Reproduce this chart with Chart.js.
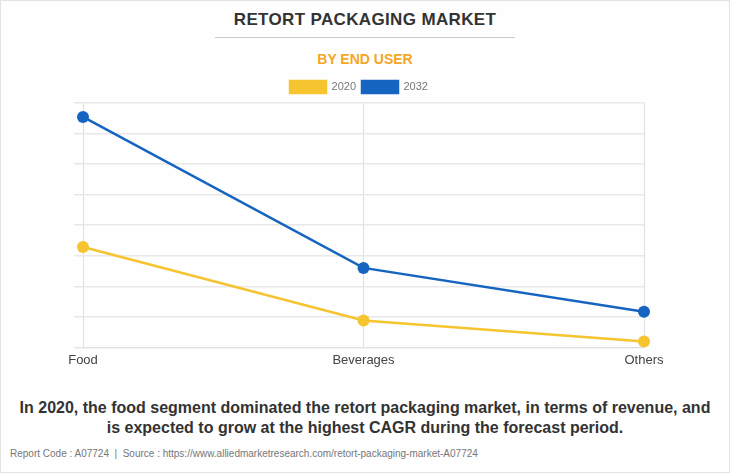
<!DOCTYPE html>
<html>
<head>
<meta charset="utf-8">
<script src="https://cdn.jsdelivr.net/npm/chart.js@4/dist/chart.umd.min.js"></script>
<style>
  html, body { margin: 0; padding: 0; background: #fff; }
  #page { position: relative; width: 728px; height: 471px; border: 1px solid #e3e3e3; background: #fefefe; overflow: hidden; font-family: "Liberation Sans", Arial, sans-serif; }
  #title { position: absolute; left: 0; width: 728px; top: 9px; text-align: center; font-weight: bold; font-size: 17px; color: #333; letter-spacing: 0.35px; }
  #rule { position: absolute; left: 214px; width: 300px; top: 36px; height: 1px; background: #c8c8c8; }
  #subtitle { position: absolute; left: 0; width: 728px; top: 50px; text-align: center; font-weight: bold; font-size: 14px; color: #F5A623; }
  #chartbox { position: absolute; left: 0; top: 74px; width: 730px; height: 298px; }
  #caption { position: absolute; left: 0; width: 728px; top: 397px; text-align: center; font-weight: bold; font-size: 16px; line-height: 20px; color: #333; }
  #source { position: absolute; left: 9px; top: 447px; font-size: 10px; color: #777; }
</style>
</head>
<body>
<div id="page">
  <div id="title">RETORT PACKAGING MARKET</div>
  <div id="rule"></div>
  <div id="subtitle">BY END USER</div>
  <div id="chartbox"><canvas id="c"></canvas></div>
  <div id="caption">In 2020, the food segment dominated the retort packaging market, in terms of revenue, and<br>is expected to grow at the highest CAGR during the forecast period.</div>
  <div id="source">Report Code : A07724 &nbsp;|&nbsp; Source : https://www.alliedmarketresearch.com/retort-packaging-market-A07724</div>
</div>
<script>
const categories = ["Food", "Beverages", "Others"];
const series2020 = [1642, 439, 98];
const series2032 = [3772, 1301, 585];
const seriesLabels = ["2020", "2032"];
const yTicks = { min: 0, max: 4000, step: 500 };

new Chart(document.getElementById("c"), {
  type: "line",
  data: {
    labels: categories,
    datasets: [
      { label: seriesLabels[0], data: series2020, borderColor: "#F5C42F", backgroundColor: "#F5C42F", borderWidth: 2.5, pointRadius: 6, pointHoverRadius: 6, pointBorderWidth: 0, tension: 0 },
      { label: seriesLabels[1], data: series2032, borderColor: "#1565C0", backgroundColor: "#1565C0", borderWidth: 2.5, pointRadius: 6, pointHoverRadius: 6, pointBorderWidth: 0, tension: 0 }
    ]
  },
  options: {
    responsive: true,
    maintainAspectRatio: false,
    animation: false,
    layout: { padding: { left: 73, right: 87, top: 0, bottom: 0 } },
    plugins: {
      legend: {
        display: true,
        position: "top",
        labels: { boxWidth: 36, boxHeight: 12, font: { size: 11, family: "'Liberation Sans', Arial, sans-serif" }, color: "#777", padding: 6 }
      },
      tooltip: { enabled: false }
    },
    scales: {
      x: {
        offset: false,
        grid: { color: "#e0e0e0", drawTicks: false },
        border: { display: true, color: "#e0e0e0" },
        ticks: { color: "#444", font: { size: 13, family: "'Liberation Sans', Arial, sans-serif" }, padding: 5 }
      },
      y: {
        min: yTicks.min, max: yTicks.max,
        grid: { color: "#e8e8e8", drawTicks: true, tickLength: 9, lineWidth: 1.5 },
        border: { display: false },
        ticks: { display: false, stepSize: yTicks.step }
      }
    }
  }
});
</script>
</body>
</html>
